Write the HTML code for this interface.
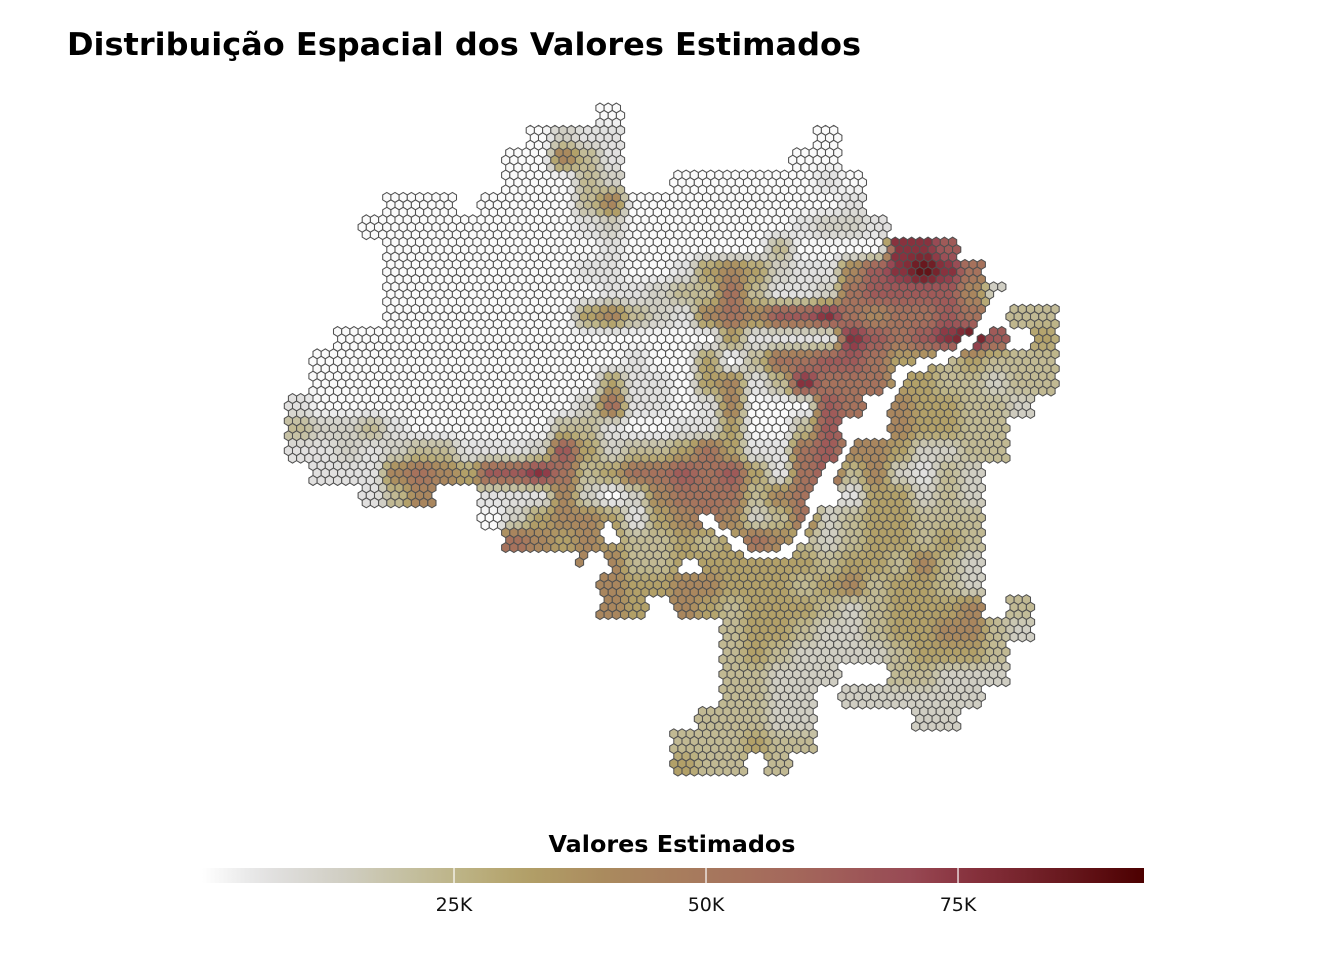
<!DOCTYPE html>
<html><head><meta charset="utf-8"><style>
html,body{margin:0;padding:0;background:#fff;}
svg{display:block;}
</style></head><body>
<svg id="chart" width="1344" height="960" viewBox="0 0 1344 960" xmlns="http://www.w3.org/2000/svg">
<defs><linearGradient id="lg" x1="0" x2="1" y1="0" y2="0"></linearGradient></defs>
<text x="67" y="55" font-family="DejaVu Sans, Liberation Sans, sans-serif" font-weight="bold" font-size="31" textLength="794" lengthAdjust="spacingAndGlyphs" fill="#000">Distribuição Espacial dos Valores Estimados</text>
<g id="hexes"></g>
<g id="legend">
<text x="672" y="852" text-anchor="middle" font-family="DejaVu Sans, Liberation Sans, sans-serif" font-weight="bold" font-size="23" textLength="247" lengthAdjust="spacingAndGlyphs" fill="#000">Valores Estimados</text>
<rect x="202" y="868" width="942" height="15" fill="url(#lg)"></rect>
</g>
</svg>
<script>
// coarse value grid: each char = level code, ' ' = no cell
const gridRows = [
"             0",
"          0211        0",
"         00531       00",
"         00032  00000010",
"    000 0000350000000001",
"   0000000001200000001221",
"    000000000100000030000887",
"    0000000011001454211578986",
"    00000000011233631126777752  22",
"    000000004532" + "1565778656676 33",
"  00000000000000004" + "11118767897 43",
" 000" + "0000000000" + "1" + "00" + "4" + "0" + "3667764" + "434333",
" 0" + "00000000000" + "4" + "11" + "0" + "451386664433233",
"1" + "0" + "0000000000" + "2" + "6" + "11" + "0" + "1" + "5" + "000" + "76" + " " + "544332",
"3223" + "1" + "000000" + "33" + "1" + "0011" + "4" + "003" + "7" + "  " + "54433",
"1121" + "233" + "111" + "2" + "7" + "4" + "2" + "33" + "46411" + "67" + "55422" + "33",
" 111" + "565" + "4" + "7786" + "3" + "4667674" + "16735" + "2132",
"   1" + "35" + "  " + "111" + "5" + "2" + "0" + "2" + "5666" + "35" + "6" + " " + "1" + "44" + "232",
"        " + "024554145652362344333",
"         " + "65454334346532344343",
"            " + "55" + "33" + "44" + "4444" + "3" + "44" + "3" + "5" + "3" + "2",
"             " + "5445544434534432",
"             " + "54" + " " + "5434443234445" + " " + "3",
"                  " + "3443223445532",
"                  " + "343222234443",
"                  " + "33222" + "  " + "33222",
"                  " + "3322" + " " + "2" + "22222",
"                 " + "33322" + "    " + "22",
"                " + "333433",
"                " + "433 3"
];
// river channel (no-data) path and holes, in map pixel coords
const channelPath = [[1002,292],[990,320],[975,338],[955,352],[930,362],[903,372],[893,392],[870,418],[850,440],[838,462],[822,485],[812,505],[808,522],[800,540],[780,556],[750,554],[735,542],[715,528],[702,517]];
const holes = [[865,425,13],[610,535,10],[596,565,14],[592,600,14],[600,625,10],[690,567,10],[670,618,10],[652,607,6]];
const levelValues = [1000, 7000, 14000, 23000, 32000, 42000, 53000, 64000, 76000, 87000];
const colorStopValues = [0, 6000, 14000, 20000, 26000, 32000, 40000, 50000, 60000, 70000, 76000, 85000, 93450];
const colorStopColors = ["#ffffff","#e3e3e3","#d0cec3","#c5c0a2","#bcb283","#b2a068","#aa8a5e","#a7785d","#a3655b","#984a54","#88323e","#6a1a20","#4c0000"];
const tickValues = [25000, 50000, 75000];
const tickLabels = ["25K", "50K", "75K"];
</script>
<script>
const NS = "http://www.w3.org/2000/svg";
const GX0 = 288, GY0 = 102, CW = 24, CH = 22.5;
const VMAX = 93450, LX0 = 202, LX1 = 1144;
function hex2rgb(h){return [parseInt(h.slice(1,3),16),parseInt(h.slice(3,5),16),parseInt(h.slice(5,7),16)];}
function colorFor(v){
  if(v<=colorStopValues[0]) return colorStopColors[0];
  for(let i=1;i<colorStopValues.length;i++){
    if(v<=colorStopValues[i]){
      const t=(v-colorStopValues[i-1])/(colorStopValues[i]-colorStopValues[i-1]);
      const a=hex2rgb(colorStopColors[i-1]), b=hex2rgb(colorStopColors[i]);
      return "rgb("+a.map((x,k)=>Math.round(x+(b[k]-x)*t)).join(",")+")";
    }
  }
  return colorStopColors[colorStopColors.length-1];
}
function cellCode(c,r){
  if(r<0||r>=gridRows.length||c<0) return null;
  const ch=gridRows[r][c];
  if(ch===undefined||ch===" ") return null;
  return levelValues[+ch];
}
function sharpen(t){return Math.max(0,Math.min(1,(t-0.5)*1.7+0.5));}
function valueAt(x,y){
  const fx=(x-GX0)/CW-0.5, fy=(y-GY0)/CH-0.5;
  const c0=Math.floor(fx), r0=Math.floor(fy), tx=sharpen(fx-c0), ty=sharpen(fy-r0);
  let s=0,w=0;
  [[0,0,(1-tx)*(1-ty)],[1,0,tx*(1-ty)],[0,1,(1-tx)*ty],[1,1,tx*ty]].forEach(([dc,dr,ww])=>{
    const v=cellCode(c0+dc,r0+dr); if(v!==null&&ww>0){s+=v*ww;w+=ww;}
  });
  return w>0?s/w:null;
}
function segDist(px,py,a,b){
  const dx=b[0]-a[0], dy=b[1]-a[1];
  let t=((px-a[0])*dx+(py-a[1])*dy)/(dx*dx+dy*dy); t=Math.max(0,Math.min(1,t));
  return Math.hypot(px-a[0]-t*dx, py-a[1]-t*dy);
}
function inGap(x,y){
  for(let k=1;k<channelPath.length;k++) if(segDist(x,y,channelPath[k-1],channelPath[k])<5.2) return true;
  for(const h of holes) if(Math.hypot(x-h[0],y-h[1])<h[2]) return true;
  return false;
}
const hexG=document.getElementById("hexes");
const DX=8.2, DY=7.45, HW=4.1, HH=4.97;
for(let j=0;j<90;j++){
  const y=108+DY*j;
  const off=(j%2===0)?0:DX/2;
  for(let i=-80;i<80;i++){
    const x=600+DX*i+off;
    if(x<286||x>1058) continue;
    const c=Math.floor((x-GX0)/CW), r=Math.floor((y-GY0)/CH);
    if(cellCode(c,r)===null) continue;
    if(inGap(x,y)) continue;
    const v=valueAt(x,y);
    const p=document.createElementNS(NS,"polygon");
    p.setAttribute("points",[[0,-HH],[HW,-HH/2],[HW,HH/2],[0,HH],[-HW,HH/2],[-HW,-HH/2]].map(q=>(x+q[0]).toFixed(2)+","+(y+q[1]).toFixed(2)).join(" "));
    p.setAttribute("fill",colorFor(v));
    p.setAttribute("stroke","#505050");
    p.setAttribute("stroke-width","1.05");
    
    
    hexG.appendChild(p);
  }
}
// legend gradient
const lg=document.getElementById("lg");
for(let k=0;k<=40;k++){
  const st=document.createElementNS(NS,"stop");
  st.setAttribute("offset",(k/40*100)+"%");
  st.setAttribute("stop-color",colorFor(k/40*VMAX));
  lg.appendChild(st);
}
const leg=document.getElementById("legend");
tickValues.forEach((tv,i)=>{
  const x=LX0+tv/VMAX*(LX1-LX0);
  const l=document.createElementNS(NS,"line");
  l.setAttribute("x1",x);l.setAttribute("x2",x);l.setAttribute("y1",868);l.setAttribute("y2",883);
  l.setAttribute("stroke","#ffffff");l.setAttribute("stroke-width","1.2");
  
  
  leg.appendChild(l);
  const t=document.createElementNS(NS,"text");
  t.setAttribute("x",x);t.setAttribute("y",911);t.setAttribute("text-anchor","middle");
  t.setAttribute("font-family","DejaVu Sans, Liberation Sans, sans-serif");t.setAttribute("font-size","19");
  t.setAttribute("fill","#111");
  t.textContent=tickLabels[i];
  
  
  leg.appendChild(t);
});
</script>
</body></html>
